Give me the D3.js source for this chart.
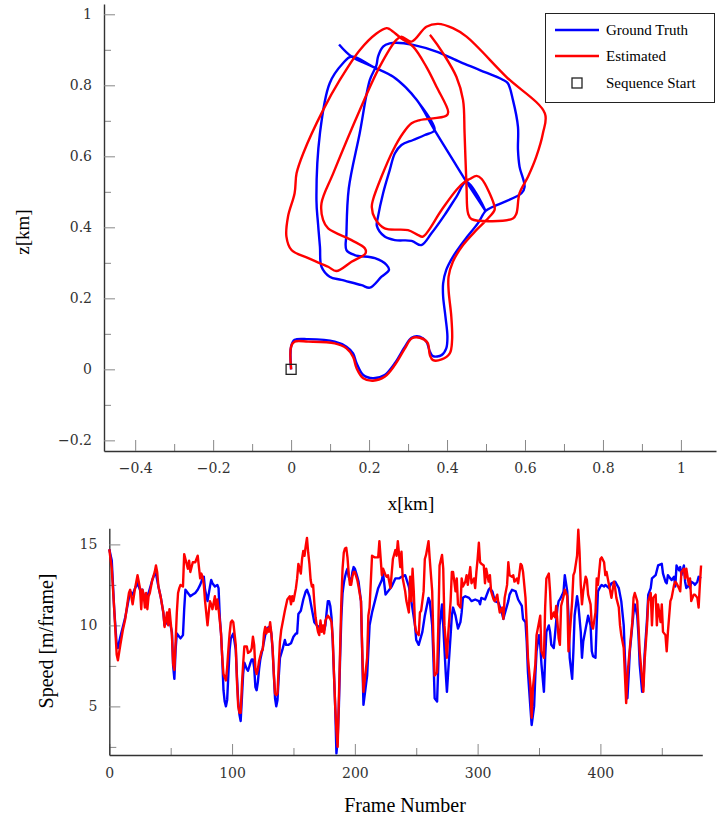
<!DOCTYPE html>
<html>
<head>
<meta charset="utf-8">
<script src="https://cdn.jsdelivr.net/npm/d3@7"></script>
<style>
  body { margin: 0; background: #fff; }
</style>
</head>
<body>
<div id="main-frame"></div>
<script>
// ---- trajectory (km) ----
const gtX = [0, 0, 0.009, 0.044, 0.112, 0.142, 0.159, 0.168, 0.185, 0.210, 0.240, 0.266, 0.292, 0.309, 0.330, 0.347, 0.356, 0.364, 0.386, 0.398, 0.401, 0.396, 0.390, 0.390, 0.398, 0.415, 0.445, 0.479, 0.499, 0.518, 0.591, 0.599, 0.586, 0.582, 0.582, 0.569, 0.556, 0.544, 0.484, 0.433, 0.373, 0.313, 0.270, 0.253, 0.236, 0.223, 0.219, 0.202, 0.176, 0.148, 0.142, 0.142, 0.163, 0.215, 0.245, 0.251, 0.232, 0.202, 0.181, 0.129, 0.099, 0.078, 0.074, 0.069, 0.065, 0.074, 0.099, 0.133, 0.155, 0.210, 0.262, 0.296, 0.322, 0.368, 0.343, 0.313, 0.283, 0.266, 0.253, 0.236, 0.223, 0.220, 0.240, 0.266, 0.309, 0.334, 0.360, 0.394, 0.424, 0.450, 0.499, 0.450, 0.415, 0.368, 0.322, 0.262, 0.210, 0.155, 0.123];
const gtZ = [0, 0.064, 0.083, 0.085, 0.078, 0.064, 0.045, 0.017, -0.016, -0.025, -0.016, 0.017, 0.064, 0.089, 0.092, 0.078, 0.050, 0.037, 0.040, 0.059, 0.092, 0.148, 0.205, 0.242, 0.280, 0.317, 0.364, 0.411, 0.446, 0.458, 0.496, 0.514, 0.571, 0.618, 0.683, 0.759, 0.806, 0.815, 0.843, 0.866, 0.895, 0.914, 0.920, 0.918, 0.909, 0.881, 0.857, 0.815, 0.665, 0.510, 0.383, 0.336, 0.322, 0.313, 0.294, 0.280, 0.261, 0.230, 0.237, 0.252, 0.261, 0.289, 0.345, 0.411, 0.477, 0.665, 0.806, 0.862, 0.881, 0.852, 0.824, 0.792, 0.759, 0.674, 0.660, 0.646, 0.632, 0.608, 0.561, 0.496, 0.430, 0.404, 0.374, 0.364, 0.362, 0.350, 0.383, 0.435, 0.486, 0.528, 0.446, 0.528, 0.590, 0.674, 0.759, 0.824, 0.852, 0.881, 0.915];

const estX = [0, 0, 0.009, 0.044, 0.112, 0.142, 0.159, 0.168, 0.185, 0.210, 0.240, 0.266, 0.292, 0.309, 0.330, 0.350, 0.356, 0.364, 0.386, 0.407, 0.413, 0.411, 0.404, 0.404, 0.415, 0.441, 0.475, 0.505, 0.522, 0.520, 0.489, 0.476, 0.458, 0.445, 0.424, 0.386, 0.338, 0.326, 0.300, 0.240, 0.215, 0.207, 0.210, 0.232, 0.262, 0.287, 0.309, 0.330, 0.398, 0.403, 0.373, 0.347, 0.313, 0.283, 0.253, 0.245, 0.219, 0.176, 0.125, 0.082, 0.031, 0.014, 0.009, -0.008, -0.012, 0.001, 0.044, 0.095, 0.116, 0.155, 0.191, 0.189, 0.155, 0.095, 0.082, 0.078, 0.108, 0.176, 0.227, 0.270, 0.283, 0.309, 0.347, 0.377, 0.415, 0.450, 0.552, 0.651, 0.646, 0.629, 0.608, 0.586, 0.578, 0.569, 0.463, 0.454, 0.450, 0.445, 0.441, 0.424, 0.390, 0.360, 0.356];
const estZ = [0, 0.064, 0.078, 0.078, 0.073, 0.059, 0.035, 0.003, -0.025, -0.032, -0.021, 0.012, 0.059, 0.087, 0.089, 0.075, 0.040, 0.026, 0.028, 0.045, 0.083, 0.148, 0.223, 0.261, 0.303, 0.350, 0.392, 0.425, 0.449, 0.466, 0.536, 0.545, 0.536, 0.528, 0.505, 0.449, 0.374, 0.378, 0.392, 0.397, 0.425, 0.457, 0.477, 0.543, 0.618, 0.665, 0.693, 0.702, 0.714, 0.725, 0.796, 0.852, 0.909, 0.932, 0.958, 0.961, 0.946, 0.899, 0.815, 0.730, 0.608, 0.552, 0.496, 0.430, 0.374, 0.336, 0.313, 0.289, 0.277, 0.303, 0.327, 0.341, 0.364, 0.397, 0.421, 0.468, 0.552, 0.730, 0.852, 0.928, 0.937, 0.923, 0.965, 0.973, 0.961, 0.937, 0.824, 0.721, 0.665, 0.599, 0.543, 0.496, 0.439, 0.425, 0.423, 0.439, 0.514, 0.665, 0.759, 0.824, 0.890, 0.937, 0.942];

const startPoint = [0, 0];

// ---- speed per frame [frame, m/frame] ----
const gtSpeed = [[0,14.7],[2,14.0],[4,11.0],[6,8.8],[7,8.6],[9,9.3],[11,9.9],[13,10.5],[15,11.3],[17,12.1],[19,11.9],[21,12.3],[23,12.6],[25,12.2],[27,12.2],[29,11.5],[32,12.0],[35,12.8],[37,13.2],[38,13.2],[40,12.4],[42,11.7],[44,10.8],[45,10.0],[47,10.2],[49,10.3],[51,9.6],[52,7.5],[53,6.7],[54,8.5],[55,9.5],[57,9.3],[58,9.2],[60,9.4],[61,11.0],[62,12.2],[64,12.0],[66,11.8],[68,11.9],[70,12.0],[72,12.2],[74,12.5],[76,12.9],[77,13.0],[78,12.2],[80,11.5],[82,12.4],[83,12.8],[84,12.6],[86,12.4],[88,12.5],[89,12.3],[90,10.5],[91,9.5],[92,8.0],[93,6.0],[94,5.3],[95,5.0],[96,5.4],[97,7.0],[98,8.5],[99,9.2],[101,9.5],[102,9.0],[103,8.5],[104,6.8],[105,5.3],[106,4.5],[107,4.1],[108,5.5],[109,7.0],[110,7.7],[112,7.3],[113,7.2],[115,7.7],[116,7.9],[117,7.9],[118,7.4],[119,6.2],[120,6.0],[121,6.5],[122,7.3],[123,7.9],[125,8.6],[127,9.4],[128,9.8],[130,9.9],[131,9.9],[132,9.5],[133,8.5],[134,7.0],[135,5.5],[136,5.0],[137,5.4],[138,6.8],[139,8.0],[141,8.5],[143,9.1],[144,8.8],[146,8.8],[148,8.9],[150,9.3],[152,9.5],[153,9.5],[154,10.7],[156,10.9],[158,11.6],[160,12.1],[161,12.2],[163,11.8],[165,11.0],[167,10.2],[169,10.0],[171,9.9],[173,9.8],[175,9.7],[176,10.0],[177,10.8],[178,11.5],[179,11.5],[180,11.2],[181,10.5],[182,9.0],[183,7.0],[184,5.0],[185,2.1],[186,3.0],[187,5.0],[188,8.0],[189,10.5],[190,12.0],[191,12.6],[192,13.0],[193,13.3],[194,13.5],[195,13.0],[196,12.8],[197,12.7],[198,13.3],[199,13.6],[200,13.5],[202,13.0],[203,12.7],[205,11.5],[207,5.1],[210,6.9],[212,10.0],[214,10.8],[217,11.7],[219,12.3],[222,12.8],[223,13.2],[225,11.9],[227,12.1],[230,12.4],[233,12.9],[236,12.9],[238,13.0],[241,13.1],[244,12.4],[246,11.5],[249,10.0],[250,9.1],[252,8.8],[255,9.6],[257,10.6],[260,11.7],[261,11.5],[263,10.0],[264,8.0],[265,5.5],[267,5.3],[268,7.6],[269,10.0],[271,11.3],[272,10.0],[274,7.1],[275,5.9],[276,7.1],[278,9.4],[279,10.6],[280,11.1],[282,10.6],[284,9.8],[286,10.2],[287,10.8],[288,11.7],[290,11.8],[293,11.7],[295,11.5],[298,11.6],[301,11.5],[302,11.3],[303,11.7],[306,11.6],[309,12.2],[310,12.3],[312,12.1],[314,11.5],[317,11.4],[320,10.7],[321,10.4],[322,10.7],[325,11.5],[326,11.9],[328,12.2],[331,12.1],[333,11.6],[336,11.2],[337,10.4],[339,10.2],[340,9.0],[341,7.1],[343,4.9],[344,3.85],[346,5.0],[347,6.9],[348,8.4],[350,9.4],[351,8.8],[352,7.6],[354,5.9],[355,8.0],[356,9.6],[358,10.0],[359,9.6],[360,8.8],[362,8.6],[363,9.4],[365,11.1],[366,11.5],[367,11.6],[369,11.9],[370,12.1],[371,13.1],[373,12.1],[374,10.6],[375,8.0],[377,6.7],[378,8.4],[379,10.6],[381,11.8],[382,11.3],[384,9.6],[385,8.0],[386,9.0],[388,9.8],[389,10.2],[390,10.6],[392,10.0],[393,8.4],[394,8.1],[396,8.0],[397,10.2],[398,12.1],[400,12.4],[401,12.5],[403,12.4],[404,12.5],[407,12.3],[409,12.6],[412,12.7],[415,12.3],[416,11.9],[417,11.5],[419,10.0],[420,8.0],[421,6.3],[422,5.5],[423,6.9],[424,8.4],[426,10.0],[427,10.8],[428,11.3],[430,10.6],[431,9.4],[432,7.6],[434,5.9],[435,6.3],[436,8.2],[438,10.4],[439,11.9],[441,12.3],[442,12.9],[445,13.1],[447,13.7],[450,13.8],[451,13.2],[453,12.7],[454,12.6],[455,13.1],[457,12.9],[458,12.8],[460,13.0],[461,12.4],[462,13.7],[464,13.4],[465,13.6],[466,13.1],[468,13.7],[469,12.7],[470,12.3],[472,12.5],[473,12.3],[474,12.7],[476,12.6],[477,12.5],[479,12.7],[480,13.0],[482,12.9]];

const estSpeed = [[0,14.7],[2,13.5],[4,11.0],[6,8.2],[7,7.85],[9,8.8],[11,9.7],[13,10.4],[15,11.5],[16,12.0],[17,12.2],[19,11.3],[21,12.3],[22,12.7],[23,13.1],[25,12.3],[26,11.0],[27,12.2],[28,11.9],[29,11.1],[30,12.0],[31,11.0],[32,11.8],[33,12.0],[35,12.8],[37,13.3],[38,13.7],[39,13.3],[40,12.4],[42,11.7],[44,10.8],[45,9.9],[46,10.3],[47,10.8],[48,10.0],[49,11.0],[50,10.2],[51,9.4],[52,7.6],[53,7.25],[54,9.0],[55,10.8],[56,12.0],[57,12.3],[58,12.5],[60,12.4],[61,14.4],[62,14.1],[63,13.8],[64,13.5],[65,14.0],[66,13.3],[68,13.9],[70,13.9],[72,14.3],[74,12.9],[75,13.2],[76,13.0],[77,12.5],[78,11.5],[80,10.0],[81,10.8],[82,11.5],[83,11.3],[84,11.0],[86,11.8],[87,11.0],[88,11.6],[89,11.0],[90,10.3],[91,9.5],[92,8.0],[93,7.0],[95,6.6],[96,7.4],[97,8.5],[98,9.5],[99,10.2],[100,10.3],[101,10.2],[102,9.5],[103,8.8],[104,6.5],[105,5.0],[106,4.6],[107,4.6],[108,6.3],[109,7.6],[110,8.7],[112,8.7],[113,8.3],[115,8.4],[116,8.6],[117,9.3],[118,8.8],[119,7.3],[120,7.0],[121,7.3],[122,7.8],[124,8.4],[125,8.5],[126,9.5],[127,9.9],[128,9.5],[129,9.8],[130,9.6],[131,10.2],[132,9.5],[133,8.6],[134,7.0],[135,5.8],[136,5.7],[137,5.8],[138,7.5],[139,9.0],[140,9.7],[142,10.5],[143,10.9],[145,11.6],[147,11.8],[148,11.3],[149,11.8],[150,11.5],[151,11.9],[152,12.3],[153,12.9],[154,13.8],[156,13.2],[157,14.1],[158,14.6],[159,14.3],[160,14.9],[161,15.4],[162,14.5],[163,13.8],[164,12.8],[165,12.4],[166,12.5],[167,11.4],[168,10.5],[169,10.0],[170,9.6],[171,9.4],[172,10.3],[173,9.6],[174,10.0],[175,9.5],[176,10.3],[178,10.6],[180,10.4],[181,10.2],[182,9.2],[183,7.0],[184,5.0],[185,3.5],[186,2.5],[187,5.5],[188,8.5],[189,11.5],[190,13.5],[191,14.5],[192,14.75],[193,14.8],[194,14.2],[195,13.2],[196,12.5],[197,12.5],[198,13.0],[199,13.3],[200,13.3],[202,12.8],[203,12.4],[205,11.5],[206,8.5],[207,5.9],[210,8.0],[211,10.6],[212,11.1],[214,14.3],[216,14.2],[219,14.2],[220,15.2],[222,13.1],[223,13.5],[225,13.1],[226,13.0],[227,13.1],[229,12.3],[231,14.1],[233,14.65],[234,14.3],[235,15.2],[237,13.6],[238,14.55],[239,12.9],[241,12.1],[242,11.5],[244,10.8],[245,13.0],[246,11.5],[247,13.5],[248,12.1],[249,10.0],[250,9.6],[252,9.4],[253,10.8],[254,10.9],[256,12.1],[257,14.1],[258,14.35],[260,15.2],[261,14.1],[263,12.1],[264,9.0],[265,6.9],[267,7.1],[268,10.0],[269,13.7],[271,14.35],[272,13.5],[273,10.0],[275,8.0],[276,9.4],[278,11.5],[279,13.3],[280,13.3],[282,12.1],[283,12.9],[284,11.3],[286,11.1],[287,12.9],[288,12.4],[290,12.7],[291,13.1],[292,12.5],[294,13.6],[295,12.6],[297,12.9],[298,12.3],[299,13.3],[300,14.1],[301,15.1],[302,13.9],[303,13.8],[305,13.7],[306,12.6],[307,13.5],[309,12.7],[310,13.1],[311,12.1],[313,11.6],[314,11.5],[316,11.9],[317,11.3],[318,10.8],[320,11.1],[321,10.4],[322,11.7],[324,12.5],[325,13.9],[326,13.1],[328,13.0],[329,13.1],[330,12.7],[332,12.9],[333,12.6],[335,13.8],[336,13.7],[337,13.3],[339,11.7],[340,10.0],[341,8.0],[343,6.3],[344,4.3],[345,6.1],[347,7.6],[348,9.4],[350,10.2],[351,10.6],[352,8.4],[354,8.0],[355,11.1],[356,12.9],[358,13.2],[359,12.1],[360,10.4],[362,10.8],[363,10.5],[364,11.2],[366,9.2],[367,8.8],[368,11.2],[370,11.8],[371,12.2],[373,11.8],[374,8.4],[375,9.4],[377,11.5],[378,13.1],[379,13.3],[381,14.3],[382,15.9],[383,14.55],[384,12.5],[385,11.3],[386,12.1],[388,13.0],[389,12.8],[390,11.9],[392,11.3],[393,10.0],[394,9.8],[396,10.8],[397,12.9],[398,12.5],[400,14.1],[401,14.2],[403,13.9],[404,13.1],[405,13.3],[407,12.5],[408,12.1],[409,11.7],[411,12.7],[412,12.3],[413,11.7],[415,11.1],[416,10.0],[417,9.4],[419,8.6],[420,6.9],[421,5.2],[422,6.9],[424,8.6],[426,10.2],[427,11.7],[428,12.0],[430,11.5],[431,10.0],[432,8.4],[434,6.7],[435,5.9],[436,7.8],[438,10.0],[439,11.5],[441,12.0],[442,10.0],[443,11.7],[445,11.9],[446,10.0],[447,11.3],[449,10.2],[450,11.3],[451,9.6],[453,9.4],[454,8.4],[455,9.6],[457,11.5],[458,11.7],[460,12.5],[461,12.7],[462,12.6],[464,12.3],[465,12.1],[466,13.3],[468,13.5],[469,12.9],[470,13.5],[472,12.5],[473,12.9],[474,11.5],[476,11.9],[477,11.9],[479,11.7],[480,11.1],[481,12.5],[482,13.7]];

// ---- ticks ----
const trajXTicks = [-0.4, -0.2, 0, 0.2, 0.4, 0.6, 0.8, 1];
const trajXTickLabels = ["\u22120.4", "\u22120.2", "0", "0.2", "0.4", "0.6", "0.8", "1"];
const trajXMinor = [-0.3, -0.1, 0.1, 0.3, 0.5, 0.7, 0.9];
const trajZTicks = [-0.2, 0, 0.2, 0.4, 0.6, 0.8, 1];
const trajZTickLabels = ["\u22120.2", "0", "0.2", "0.4", "0.6", "0.8", "1"];
const trajZMinor = [-0.1, 0.1, 0.3, 0.5, 0.7, 0.9];
const frameTicks = [0, 100, 200, 300, 400];
const frameMinor = [50, 150, 250, 350, 450];
const speedTicks = [5, 10, 15];
const speedMinor = [2.5, 7.5, 12.5];

const legendLabels = ["Ground Truth", "Estimated", "Sequence Start"];
const gtColor = "#0000ff";
const estColor = "#ff0000";

const svg = d3.select("#main-frame")
  .append("svg")
  .attr("width", 718)
  .attr("height", 821);

const tickFont = "DejaVu Serif";
const labelFont = "Liberation Serif";

function styleAxis(g, minor) {
  g.select(".domain").attr("stroke", minor ? "none" : "#333").attr("stroke-width", 1.4);
  g.selectAll(".tick line").attr("stroke", "#888").attr("stroke-width", 1);
  g.selectAll(".tick text")
    .attr("fill", "#333")
    .style("font-family", tickFont)
    .style("font-size", "14px");
}

// ================= trajectory panel =================
const xScale = d3.scaleLinear().domain([-0.48, 1.09]).range([104, 716]);
const zScale = d3.scaleLinear().domain([-0.23, 1.029]).range([451, 4]);

svg.append("g")
  .attr("transform", "translate(0,451)")
  .call(d3.axisBottom(xScale).tickValues(trajXMinor).tickSizeInner(-7).tickSizeOuter(0).tickFormat(""))
  .call(g => styleAxis(g, true));
svg.append("g")
  .attr("transform", "translate(104,0)")
  .call(d3.axisLeft(zScale).tickValues(trajZMinor).tickSizeInner(-7).tickSizeOuter(0).tickFormat(""))
  .call(g => styleAxis(g, true));

svg.append("g")
  .attr("transform", "translate(0,451)")
  .call(d3.axisBottom(xScale).tickValues(trajXTicks).tickSizeInner(-11).tickSizeOuter(0).tickPadding(12)
    .tickFormat((d, i) => trajXTickLabels[i]))
  .call(g => styleAxis(g, false));
svg.append("g")
  .attr("transform", "translate(104,0)")
  .call(d3.axisLeft(zScale).tickValues(trajZTicks).tickSizeInner(-11).tickSizeOuter(0).tickPadding(12)
    .tickFormat((d, i) => trajZTickLabels[i]))
  .call(g => styleAxis(g, false));

const trajLine = d3.line()
  .x(d => xScale(d[0]))
  .y(d => zScale(d[1]))
  .curve(d3.curveCatmullRom.alpha(0.5));

const gtPts = gtX.map((x, i) => [x, gtZ[i]]);
const estPts = estX.map((x, i) => [x, estZ[i]]);

svg.append("path")
  .datum(gtPts)
  .attr("d", trajLine)
  .attr("fill", "none")
  .attr("stroke", gtColor)
  .attr("stroke-width", 2.4)
  .attr("stroke-linejoin", "round");

svg.append("path")
  .datum(estPts)
  .attr("d", trajLine)
  .attr("fill", "none")
  .attr("stroke", estColor)
  .attr("stroke-width", 2.4)
  .attr("stroke-linejoin", "round");

svg.append("rect")
  .attr("x", xScale(startPoint[0]) - 5)
  .attr("y", zScale(startPoint[1]) - 5)
  .attr("width", 10)
  .attr("height", 10)
  .attr("fill", "none")
  .attr("stroke", "#222")
  .attr("stroke-width", 1.3);

svg.append("text")
  .attr("x", 411)
  .attr("y", 510)
  .attr("text-anchor", "middle")
  .style("font-family", labelFont)
  .style("font-size", "19px")
  .text("x[km]");

svg.append("text")
  .attr("transform", "translate(29,232) rotate(-90)")
  .attr("text-anchor", "middle")
  .style("font-family", labelFont)
  .style("font-size", "19px")
  .text("z[km]");

// legend
const legend = svg.append("g");
legend.append("rect")
  .attr("x", 545.5).attr("y", 13.5)
  .attr("width", 169).attr("height", 89)
  .attr("fill", "#fff")
  .attr("stroke", "#222")
  .attr("stroke-width", 1);

const legendRows = [30, 56, 83];
[gtColor, estColor].forEach((c, i) => {
  legend.append("line")
    .attr("x1", 555).attr("x2", 599)
    .attr("y1", legendRows[i]).attr("y2", legendRows[i])
    .attr("stroke", c).attr("stroke-width", 2.4);
});
legend.append("rect")
  .attr("x", 572).attr("y", legendRows[2] - 5)
  .attr("width", 10).attr("height", 10)
  .attr("fill", "none").attr("stroke", "#222").attr("stroke-width", 1.3);
legendLabels.forEach((t, i) => {
  legend.append("text")
    .attr("x", 606).attr("y", legendRows[i] + 5)
    .style("font-family", labelFont)
    .style("font-size", "15px")
    .text(t);
});

// ================= speed panel =================
const fScale = d3.scaleLinear().domain([0, 483]).range([109.3, 702.3]);
const vScale = d3.scaleLinear().domain([2, 16]).range([755, 528.2]);

svg.append("g")
  .attr("transform", "translate(0,755)")
  .call(d3.axisBottom(fScale).tickValues(frameMinor).tickSizeInner(-7).tickSizeOuter(0).tickFormat(""))
  .call(g => styleAxis(g, true));
svg.append("g")
  .attr("transform", "translate(109.3,0)")
  .call(d3.axisLeft(vScale).tickValues(speedMinor).tickSizeInner(-7).tickSizeOuter(0).tickFormat(""))
  .call(g => styleAxis(g, true));

svg.append("g")
  .attr("transform", "translate(0,755)")
  .call(d3.axisBottom(fScale).tickValues(frameTicks).tickSizeInner(-11).tickSizeOuter(0).tickPadding(13)
    .tickFormat(d3.format("d")))
  .call(g => styleAxis(g, false));
svg.append("g")
  .attr("transform", "translate(109.3,0)")
  .call(d3.axisLeft(vScale).tickValues(speedTicks).tickSizeInner(-11).tickSizeOuter(0).tickPadding(12)
    .tickFormat(d3.format("d")))
  .call(g => styleAxis(g, false));

const speedLine = d3.line()
  .x(d => fScale(d[0]))
  .y(d => vScale(d[1]));

svg.append("path")
  .datum(gtSpeed)
  .attr("d", speedLine)
  .attr("fill", "none")
  .attr("stroke", gtColor)
  .attr("stroke-width", 2.4)
  .attr("stroke-linejoin", "round");

svg.append("path")
  .datum(estSpeed)
  .attr("d", speedLine)
  .attr("fill", "none")
  .attr("stroke", estColor)
  .attr("stroke-width", 2.4)
  .attr("stroke-linejoin", "round");

svg.append("text")
  .attr("x", 405)
  .attr("y", 812)
  .attr("text-anchor", "middle")
  .style("font-family", labelFont)
  .style("font-size", "20px")
  .text("Frame Number");

svg.append("text")
  .attr("transform", "translate(53,641) rotate(-90)")
  .attr("text-anchor", "middle")
  .style("font-family", labelFont)
  .style("font-size", "20px")
  .text("Speed [m/frame]");
</script>
</body>
</html>
